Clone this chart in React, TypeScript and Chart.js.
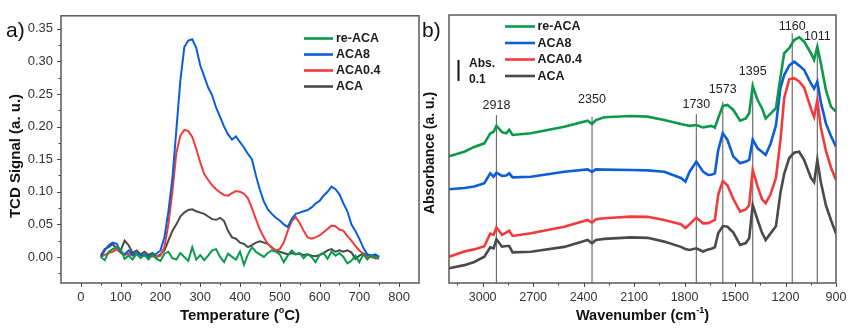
import React, { useEffect, useRef } from "react";
import { Chart, registerables } from "chart.js";
Chart.register(...registerables);

const FONT = '"Liberation Sans", Arial, Helvetica, sans-serif';

const SERIES_NAMES = ["re-ACA", "ACA8", "ACA0.4", "ACA"];
const SERIES_COLORS = ["#0b9a4c", "#0b5ed7", "#f23b3b", "#4a4a4a"];

// ---------- Panel a: TPD (TCD signal vs temperature) ----------
const TEMP = [
  50, 60, 70, 80, 90, 100, 110, 120, 130, 140, 150, 160, 170, 180, 190, 200, 210, 220, 230, 240,
  250, 260, 270, 280, 290, 300, 310, 320, 330, 340, 350, 360, 370, 380, 390, 400, 410, 420, 430, 440,
  450, 460, 470, 480, 490, 500, 510, 520, 530, 540, 550, 560, 570, 580, 590, 600, 610, 620, 630, 640,
  650, 660, 670, 680, 690, 700, 710, 720, 730, 740, 750,
];
const TPR_REACA = [
  0.0, -0.005, 0.008, 0.012, 0.015, 0.012, -0.003, 0.002, -0.004, 0.005, -0.002, 0.003, -0.004, 0.004, -0.003, -0.006, 0.005, 0.008, -0.002, -0.004,
  0.006, 0.0, -0.006, 0.015, -0.004, 0.003, -0.005, 0.002, 0.01, 0.012, 0.0, -0.008, 0.005, 0.0, -0.004, 0.008, -0.012, 0.004, 0.015, 0.008,
  0.004, 0.0, 0.006, 0.01, 0.008, 0.004, -0.008, 0.002, 0.01, 0.004, 0.006, -0.002, 0.004, 0.0, -0.008, 0.003, 0.006, -0.003, 0.008, 0.002,
  0.006, 0.0, -0.01, -0.006, 0.002, -0.008, 0.004, -0.004, 0.003, -0.002, 0.002,
];
const TPR_ACA8 = [
  0.0, 0.01, 0.018, 0.022, 0.02, 0.008, 0.004, 0.01, 0.003, 0.006, 0.002, 0.004, 0.0, 0.003, 0.005, 0.01, 0.03, 0.07, 0.12, 0.195,
  0.27, 0.322, 0.332, 0.334, 0.321, 0.294, 0.277, 0.26, 0.248, 0.229, 0.215, 0.2, 0.188, 0.18, 0.185, 0.176, 0.168, 0.158, 0.15, 0.125,
  0.103, 0.085, 0.073, 0.066, 0.06, 0.056, 0.05, 0.046, 0.058, 0.066, 0.068, 0.07, 0.072, 0.076, 0.082, 0.086, 0.094, 0.1, 0.108, 0.104,
  0.096, 0.082, 0.07, 0.05, 0.04, 0.028, 0.014, 0.004, 0.002, 0.004, 0.0,
];
const TPR_ACA04 = [
  0.0, 0.003, 0.006, 0.008, 0.012, 0.006, 0.003, 0.005, 0.002, 0.004, 0.003, 0.002, 0.0, 0.001, 0.0, 0.002, 0.015, 0.05, 0.1, 0.16,
  0.186, 0.195, 0.193, 0.184, 0.166, 0.145, 0.127, 0.118, 0.11, 0.104, 0.099, 0.095, 0.094, 0.098, 0.101, 0.1, 0.097, 0.09, 0.075, 0.058,
  0.042, 0.03, 0.02, 0.014, 0.01, 0.012, 0.022, 0.04, 0.055, 0.061, 0.052, 0.04, 0.03, 0.028, 0.03, 0.033, 0.038, 0.043, 0.048, 0.047,
  0.042, 0.04, 0.032, 0.025, 0.017, 0.01, 0.005, 0.0, 0.0, -0.002, -0.003,
];
const TPR_ACA = [
  0.002, 0.012, 0.015, 0.02, 0.012, 0.01, 0.025, 0.018, 0.006, 0.01, 0.004, 0.008, 0.003, 0.006, 0.0, 0.004, 0.01, 0.025, 0.04, 0.05,
  0.062, 0.068, 0.072, 0.073, 0.07, 0.068, 0.066, 0.062, 0.058, 0.057, 0.06, 0.055, 0.04, 0.03, 0.028, 0.022, 0.02, 0.015, 0.018, 0.022,
  0.024, 0.022, 0.02, 0.015, 0.01, 0.008, 0.006, 0.004, 0.006, 0.004, 0.005, 0.003, 0.004, 0.002, 0.001, 0.003, 0.006, 0.01, 0.012, 0.008,
  0.01, 0.008, 0.01, 0.007, -0.003, 0.002, 0.005, 0.003, 0.0, 0.002, 0.0,
];
const TPR_XTICKS = [0, 100, 200, 300, 400, 500, 600, 700, 800];
const TPR_YTICKS = [0, 0.05, 0.1, 0.15, 0.2, 0.25, 0.3, 0.35];

// ---------- Panel b: FTIR ----------
const WN = [
  3200, 3109, 3050, 2990, 2955, 2935, 2918, 2885, 2860, 2842, 2822, 2713, 2515, 2376, 2350, 2327, 2277, 2119, 2020, 1921,
  1822, 1795, 1770, 1730, 1690, 1660, 1640, 1620, 1600, 1573, 1545, 1510, 1470, 1436, 1416, 1395, 1366, 1340, 1318, 1290,
  1257, 1230, 1208, 1178, 1149, 1119, 1089, 1049, 1030, 1011, 990, 960, 930, 900,
];
const FT_REACA = [
  0.603, 0.625, 0.648, 0.665, 0.712, 0.72, 0.748, 0.718, 0.713, 0.729, 0.705, 0.713, 0.744, 0.773, 0.757, 0.776, 0.789, 0.795, 0.792, 0.776,
  0.757, 0.752, 0.748, 0.752, 0.741, 0.745, 0.748, 0.74, 0.785, 0.843, 0.848, 0.824, 0.773, 0.784, 0.808, 0.938, 0.871, 0.832, 0.784, 0.805,
  0.832, 0.98, 1.094, 1.118, 1.157, 1.17, 1.149, 1.094, 1.062, 1.125, 1.046, 0.919, 0.84, 0.816,
];
const FT_ACA8 = [
  0.446, 0.452, 0.459, 0.475, 0.522, 0.506, 0.525, 0.51, 0.512, 0.522, 0.503, 0.506, 0.53, 0.541, 0.529, 0.541, 0.54, 0.538, 0.536, 0.53,
  0.5, 0.483, 0.53, 0.578, 0.53, 0.514, 0.515, 0.522, 0.633, 0.713, 0.681, 0.602, 0.57, 0.578, 0.586, 0.684, 0.641, 0.625, 0.61, 0.66,
  0.75, 0.93, 0.99, 1.035, 1.054, 1.035, 1.014, 0.95, 0.925, 0.959, 0.86, 0.76, 0.7, 0.649,
];
const FT_ACA04 = [
  0.125, 0.15, 0.16, 0.175, 0.235, 0.229, 0.265, 0.229, 0.24, 0.249, 0.224, 0.237, 0.268, 0.3, 0.287, 0.303, 0.308, 0.316, 0.315, 0.3,
  0.28, 0.262, 0.28, 0.311, 0.284, 0.285, 0.292, 0.3, 0.42, 0.485, 0.465, 0.4, 0.34, 0.35, 0.37, 0.538, 0.46, 0.4, 0.38, 0.42,
  0.5, 0.68, 0.88, 0.97, 0.975, 0.96, 0.93, 0.83, 0.79, 0.87, 0.74, 0.63, 0.55, 0.49,
];
const FT_ACA = [
  0.07, 0.085, 0.1, 0.125, 0.17, 0.165, 0.208, 0.173, 0.176, 0.176, 0.146, 0.149, 0.172, 0.205, 0.189, 0.205, 0.21, 0.217, 0.215, 0.197,
  0.172, 0.162, 0.157, 0.165, 0.15, 0.16, 0.163, 0.17, 0.237, 0.271, 0.268, 0.24, 0.181, 0.19, 0.213, 0.371, 0.3, 0.24, 0.205, 0.235,
  0.27, 0.43, 0.52, 0.595, 0.62, 0.625, 0.585, 0.5, 0.48, 0.586, 0.48, 0.37, 0.3, 0.235,
];
const FT_XTICKS = [3000, 2700, 2400, 2100, 1800, 1500, 1200, 900];
const PEAK_WN = [2918, 2350, 1730, 1573, 1395, 1160, 1011];
const PEAK_TOP = [0.8, 0.792, 0.805, 0.863, 0.959, 1.189, 1.125];
const PEAK_LABEL_Y = [105.5, 99.5, 104.5, 89.5, 71.5, 26.5, 36.5];
const SCALE_BAR = [0.962, 1.062];

function drawRich(ctx: any, segs: any[], cx: number, baseY: number, size: number) {
  const full = `bold ${size}px ${FONT}`;
  const small = `bold ${Math.round(size * 0.62)}px ${FONT}`;
  let w = 0;
  segs.forEach((s) => {
    ctx.font = s.sup ? small : full;
    w += ctx.measureText(s.t).width;
  });
  let x = cx - w / 2;
  ctx.textAlign = "left";
  ctx.textBaseline = "alphabetic";
  segs.forEach((s) => {
    ctx.font = s.sup ? small : full;
    ctx.fillText(s.t, x, s.sup ? baseY - size * 0.42 : baseY);
    x += ctx.measureText(s.t).width;
  });
}

function drawLegend(ctx: any, x0: number, x1: number, tx: number, ys: number[], size: number) {
  SERIES_NAMES.forEach((name, i) => {
    ctx.strokeStyle = SERIES_COLORS[i];
    ctx.lineWidth = 2.6;
    ctx.beginPath();
    ctx.moveTo(x0, ys[i]);
    ctx.lineTo(x1, ys[i]);
    ctx.stroke();
    ctx.fillStyle = "#1a1a1a";
    ctx.font = `bold ${size}px ${FONT}`;
    ctx.textAlign = "left";
    ctx.textBaseline = "middle";
    ctx.fillText(name, tx, ys[i] + 0.5);
  });
}

const tprDecor = {
  id: "tprDecor",
  afterDraw(chart: any) {
    const { ctx, chartArea: ca } = chart;
    const xs = chart.scales.x;
    const ys = chart.scales.y;
    ctx.save();
    ctx.strokeStyle = "#5a5a5a";
    ctx.lineWidth = 1.5;
    ctx.strokeRect(ca.left, ca.top, ca.right - ca.left, ca.bottom - ca.top);
    ctx.strokeStyle = "#444";
    ctx.lineWidth = 1;
    ctx.beginPath();
    TPR_XTICKS.forEach((v) => {
      const p = Math.round(xs.getPixelForValue(v)) + 0.5;
      ctx.moveTo(p, ca.bottom);
      ctx.lineTo(p, ca.bottom + 4);
      const m = v + 50;
      if (m < xs.max) {
        const pm = Math.round(xs.getPixelForValue(m)) + 0.5;
        ctx.moveTo(pm, ca.bottom);
        ctx.lineTo(pm, ca.bottom + 2.5);
      }
    });
    TPR_YTICKS.forEach((v) => {
      const p = Math.round(ys.getPixelForValue(v)) + 0.5;
      ctx.moveTo(ca.left, p);
      ctx.lineTo(ca.left - 4, p);
      const m = v - 0.025;
      if (m > ys.min) {
        const pm = Math.round(ys.getPixelForValue(m)) + 0.5;
        ctx.moveTo(ca.left, pm);
        ctx.lineTo(ca.left - 2.5, pm);
      }
    });
    ctx.stroke();

    drawLegend(ctx, 304, 333, 336, [38.5, 54.5, 70.5, 86.5], 12.5);

    ctx.fillStyle = "#111";
    drawRich(ctx, [{ t: "Temperature (" }, { t: "o", sup: true }, { t: "C)" }], (ca.left + ca.right) / 2, 319.5, 15);

    ctx.save();
    ctx.translate(16, 156);
    ctx.rotate(-Math.PI / 2);
    ctx.font = `bold 15px ${FONT}`;
    ctx.textAlign = "center";
    ctx.textBaseline = "middle";
    ctx.fillText("TCD Signal (a. u.)", 0, 0);
    ctx.restore();

    ctx.font = `21px ${FONT}`;
    ctx.textAlign = "left";
    ctx.textBaseline = "alphabetic";
    ctx.fillText("a)", 6, 37);
    ctx.restore();
  },
};

const ftDecor = {
  id: "ftDecor",
  afterDraw(chart: any) {
    const { ctx, chartArea: ca } = chart;
    const xs = chart.scales.x;
    const ys = chart.scales.y;
    ctx.save();
    ctx.strokeStyle = "#5a5a5a";
    ctx.lineWidth = 1.5;
    ctx.strokeRect(ca.left, ca.top, ca.right - ca.left, ca.bottom - ca.top);
    ctx.strokeStyle = "#444";
    ctx.lineWidth = 1;
    ctx.beginPath();
    FT_XTICKS.forEach((v) => {
      const p = Math.round(xs.getPixelForValue(v)) + 0.5;
      ctx.moveTo(p, ca.bottom);
      ctx.lineTo(p, ca.bottom + 4);
      const m = v + 150;
      if (m < xs.max) {
        const pm = Math.round(xs.getPixelForValue(m)) + 0.5;
        ctx.moveTo(pm, ca.bottom);
        ctx.lineTo(pm, ca.bottom + 2.5);
      }
    });
    ctx.stroke();

    drawLegend(ctx, 87, 117, 119.5, [26.5, 43, 59.5, 76], 12.5);

    // scale bar
    ctx.strokeStyle = "#111";
    ctx.lineWidth = 2;
    ctx.beginPath();
    ctx.moveTo(40.5, ys.getPixelForValue(SCALE_BAR[0]));
    ctx.lineTo(40.5, ys.getPixelForValue(SCALE_BAR[1]));
    ctx.stroke();
    ctx.fillStyle = "#1a1a1a";
    ctx.font = `bold 12px ${FONT}`;
    ctx.textAlign = "left";
    ctx.textBaseline = "middle";
    ctx.fillText("Abs.", 51, 63.5);
    ctx.fillText("0.1", 51, 79.5);

    // peak labels
    ctx.font = `12.5px ${FONT}`;
    ctx.textAlign = "center";
    ctx.fillStyle = "#222";
    PEAK_WN.forEach((w, i) => {
      ctx.fillText(String(w), xs.getPixelForValue(w), PEAK_LABEL_Y[i]);
    });

    ctx.fillStyle = "#111";
    drawRich(ctx, [{ t: "Wavenumber (cm" }, { t: "-1", sup: true }, { t: ")" }], (ca.left + ca.right) / 2, 319.5, 14.5);

    ctx.save();
    ctx.translate(12, 153);
    ctx.rotate(-Math.PI / 2);
    ctx.font = `bold 14px ${FONT}`;
    ctx.textAlign = "center";
    ctx.textBaseline = "middle";
    ctx.fillText("Absorbance (a. u.)", 0, 0);
    ctx.restore();

    ctx.font = `21px ${FONT}`;
    ctx.textAlign = "left";
    ctx.textBaseline = "alphabetic";
    ctx.fillText("b)", 4, 37);
    ctx.restore();
  },
};

function lineDs(label: string, xsArr: number[], ysArr: number[], color: string, width: number) {
  return {
    label,
    data: xsArr.map((x, i) => ({ x, y: ysArr[i] })),
    borderColor: color,
    backgroundColor: color,
    borderWidth: width,
    pointRadius: 0,
    tension: 0,
    fill: false,
  };
}

function tickFont(size: number) {
  return { family: FONT, size };
}

function buildTpr(canvas: HTMLCanvasElement) {
  const series = [TPR_REACA, TPR_ACA8, TPR_ACA04, TPR_ACA];
  return new Chart(canvas, {
    type: "line",
    data: {
      datasets: series.map((s, i) => lineDs(SERIES_NAMES[i], TEMP, s, SERIES_COLORS[i], 2)),
    },
    options: {
      responsive: false,
      animation: false,
      devicePixelRatio: 1,
      events: [],
      layout: { padding: { left: 0, right: 11, top: 15, bottom: 0 } },
      plugins: { legend: { display: false }, tooltip: { enabled: false } },
      scales: {
        x: {
          type: "linear",
          min: -50,
          max: 850,
          afterBuildTicks: (s: any) => {
            s.ticks = TPR_XTICKS.map((v) => ({ value: v }));
          },
          afterFit: (s: any) => {
            s.height = 45;
          },
          grid: { display: false, drawTicks: false },
          border: { display: false },
          ticks: {
            padding: 7,
            font: tickFont(13),
            color: "#333",
            maxRotation: 0,
            autoSkip: false,
            callback: (v: any) => String(v),
          },
        },
        y: {
          type: "linear",
          min: -0.04,
          max: 0.37,
          afterBuildTicks: (s: any) => {
            s.ticks = TPR_YTICKS.map((v) => ({ value: v }));
          },
          afterFit: (s: any) => {
            s.width = 61;
          },
          grid: { display: false, drawTicks: false },
          border: { display: false },
          ticks: {
            padding: 8,
            font: tickFont(13),
            color: "#333",
            autoSkip: false,
            callback: (v: any) => Number(v).toFixed(2),
          },
        },
      },
    },
    plugins: [tprDecor],
  } as any);
}

function buildFt(canvas: HTMLCanvasElement) {
  const series = [FT_REACA, FT_ACA8, FT_ACA04, FT_ACA];
  const datasets: any[] = series.map((s, i) => lineDs(SERIES_NAMES[i], WN, s, SERIES_COLORS[i], 2.6));
  PEAK_WN.forEach((w, i) => {
    datasets.push(lineDs("peak " + w, [w, w], [0, PEAK_TOP[i]], "#6e6e6e", 1.2));
  });
  return new Chart(canvas, {
    type: "line",
    data: { datasets },
    options: {
      responsive: false,
      animation: false,
      devicePixelRatio: 1,
      events: [],
      layout: { padding: { left: 31, right: 22, top: 15, bottom: 0 } },
      plugins: { legend: { display: false }, tooltip: { enabled: false } },
      scales: {
        x: {
          type: "linear",
          reverse: true,
          min: 900,
          max: 3200,
          afterBuildTicks: (s: any) => {
            s.ticks = FT_XTICKS.map((v) => ({ value: v }));
          },
          afterFit: (s: any) => {
            s.height = 45;
          },
          grid: { display: false, drawTicks: false },
          border: { display: false },
          ticks: {
            padding: 7,
            font: tickFont(12.5),
            color: "#333",
            maxRotation: 0,
            autoSkip: false,
            callback: (v: any) => String(v),
          },
        },
        y: {
          type: "linear",
          min: 0,
          max: 1.276,
          display: false,
        },
      },
    },
    plugins: [ftDecor],
  } as any);
}

function ChartCanvas({ left, width, build }: { left: number; width: number; build: (c: HTMLCanvasElement) => Chart }) {
  const ref = useRef<HTMLCanvasElement>(null);
  useEffect(() => {
    if (!ref.current) return;
    const chart = build(ref.current);
    return () => chart.destroy();
  }, []);
  return (
    <canvas
      ref={ref}
      width={width}
      height={328}
      style={{ position: "absolute", left, top: 0, width, height: 328, display: "block" }}
    />
  );
}

export default function App() {
  return (
    <div style={{ position: "absolute", left: 0, top: 0, width: 858, height: 328, background: "#fff", overflow: "hidden" }}>
      <ChartCanvas left={0} width={430} build={buildTpr} />
      <ChartCanvas left={418} width={440} build={buildFt} />
    </div>
  );
}
